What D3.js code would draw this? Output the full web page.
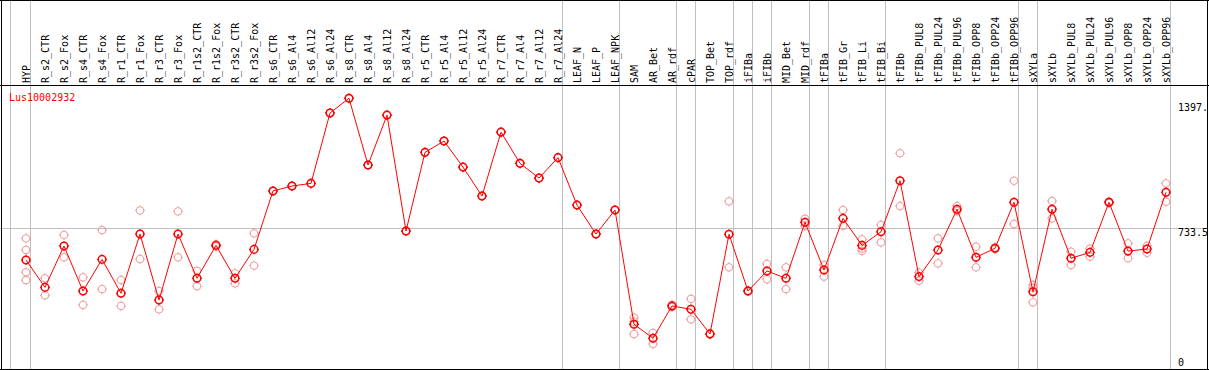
<!DOCTYPE html>
<html>
<head>
<meta charset="utf-8">
<script src="https://cdn.jsdelivr.net/npm/d3@7"></script>
<style>
  body { margin: 0; background: #fff; }
  svg text { font-family: "DejaVu Sans Mono", "Liberation Mono", monospace; font-size: 10px; }
</style>
</head>
<body>
<svg id="chart" width="1209" height="370"></svg>
<script>
// sample names along the top
var samples = ["HYP", "R_s2_CTR", "R_s2_Fox", "R_s4_CTR", "R_s4_Fox", "R_r1_CTR", "R_r1_Fox", "R_r3_CTR", "R_r3_Fox",
    "R_r1s2_CTR", "R_r1s2_Fox", "R_r3s2_CTR", "R_r3s2_Fox", "R_s6_CTR", "R_s6_Al4", "R_s6_Al12", "R_s6_Al24",
    "R_s8_CTR", "R_s8_Al4", "R_s8_Al12", "R_s8_Al24", "R_r5_CTR", "R_r5_Al4", "R_r5_Al12", "R_r5_Al24",
    "R_r7_CTR", "R_r7_Al4", "R_r7_Al12", "R_r7_Al24", "LEAF_N", "LEAF_P", "LEAF_NPK", "SAM", "AR_Bet", "AR_rdf",
    "cPAR", "TOP_Bet", "TOP_rdf", "iFIBa", "iFIBb", "MID_Bet", "MID_rdf", "tFIBa", "tFIB_Gr", "tFIB_Li", "tFIB_Bi",
    "tFIBb", "tFIBb_PUL8", "tFIBb_PUL24", "tFIBb_PUL96", "tFIBb_OPP8", "tFIBb_OPP24", "tFIBb_OPP96",
    "sXYLa", "sXYLb", "sXYLb_PUL8", "sXYLb_PUL24", "sXYLb_PUL96", "sXYLb_OPP8", "sXYLb_OPP24", "sXYLb_OPP96"];

// mean expression per sample
var means = [567, 422, 641, 403, 570, 391, 704, 355, 704, 470, 644, 470, 623,
    932, 958, 972, 1344, 1422, 1069, 1333, 720, 1136, 1196, 1058, 905, 1243, 1078, 1000, 1108,
    857, 704, 831, 227, 153, 324, 306, 176, 703, 403, 509, 470, 766, 514, 787, 644, 716,
    986, 479, 620, 835, 581, 629, 872, 399, 835, 576, 607, 872, 614, 625, 925];

// replicate values per sample
var replicates = [[681, 620, 502, 460], [470, 380], [699, 581], [475, 329], [725, 413], [461, 324], [829, 572],
    [403, 306], [824, 581], [510, 428], [650, 638], [496, 443], [708, 537],
    [932, 932], [958, 958], [972, 972], [1344, 1344], [1422, 1422], [1069, 1069], [1333, 1333], [720, 720],
    [1136, 1136], [1196, 1196], [1058, 1058], [905, 905], [1243, 1243], [1078, 1078], [1000, 1000], [1108, 1108],
    [857, 857], [704, 704], [831, 831],
    [262, 240, 175], [182, 123], [330, 318], [361, 253], [178, 174], [877, 528], [405, 401], [546, 465],
    [528, 413], [785, 747], [540, 479], [831, 748], [676, 628, 615], [752, 660],
    [1131, 852], [500, 457], [681, 549], [852, 826], [637, 528], [633, 625], [986, 757],
    [435, 420, 343], [879, 787], [611, 540], [627, 584], [876, 868], [655, 576], [641, 605], [972, 875]];

// index of last sample in each group (grey separators)
var groupEnds = [0, 28, 31, 34, 35, 37, 38, 39, 41, 42, 45, 52, 53, 60];

var axisTicks = [1397, 733.5, 0];
var axisLabels = ["1397.", "733.5", "0"];
var geneName = "Lus10002932";

var W = 1209, H = 370;
var HEADER = 85;

var svg = d3.select("#chart");

var x = d3.scaleLinear().domain([0, samples.length - 1]).range([26, 26 + 19 * (samples.length - 1)]);
var y = d3.scaleLinear().domain([0, 1397]).range([367.2, 103]);

// grid lines
svg.append("line")
    .attr("x1", 10.5).attr("x2", 10.5).attr("y1", 0).attr("y2", H)
    .attr("stroke", "#c0c0c0");

svg.selectAll("line.sep")
    .data(groupEnds)
    .enter()
    .append("line")
    .attr("class", "sep")
    .attr("x1", function(d) { return Math.round(x(d)) + 4.5; })
    .attr("x2", function(d) { return Math.round(x(d)) + 4.5; })
    .attr("y1", 0)
    .attr("y2", H)
    .attr("stroke", "#c0c0c0");

svg.append("line")
    .attr("x1", 0).attr("x2", W)
    .attr("y1", Math.round(y(733.5)) + 0.5).attr("y2", Math.round(y(733.5)) + 0.5)
    .attr("stroke", "#c0c0c0");

// sample labels, rotated
svg.selectAll("text.sample")
    .data(samples)
    .enter()
    .append("text")
    .attr("class", "sample")
    .attr("transform", function(d, i) { return "translate(" + (x(i) + 3.5) + "," + (HEADER - 2) + ") rotate(-90)"; })
    .attr("fill", "#000")
    .text(function(d) { return d; });

// right-hand value labels
svg.selectAll("text.tick")
    .data(axisTicks)
    .enter()
    .append("text")
    .attr("class", "tick")
    .attr("x", 1178)
    .attr("y", function(d) { return Math.min(y(d), 358) + 7.5; })
    .attr("fill", "#000")
    .text(function(d, i) { return axisLabels[i]; });

svg.append("text")
    .attr("x", 9)
    .attr("y", 101)
    .attr("fill", "red")
    .text(geneName);

// marker: small circle with little ticks
function marker(g, colour, sw) {
    g.append("circle")
        .attr("r", 3.8)
        .attr("fill", "none")
        .attr("stroke", colour)
        .attr("stroke-width", sw);
    g.append("path")
        .attr("d", "M0,-5V-3.8M0,3.8V5M-5,0H-3.8M3.8,0H5")
        .attr("stroke", colour)
        .attr("stroke-width", 1);
}

// replicate points
var reps = [];
for (var i = 0; i < replicates.length; i++) {
    for (var j = 0; j < replicates[i].length; j++) {
        reps.push({ i: i, v: replicates[i][j] });
    }
}
svg.append("g").selectAll("g")
    .data(reps)
    .enter()
    .append("g")
    .attr("transform", function(d) { return "translate(" + x(d.i) + "," + y(d.v) + ")"; })
    .each(function() { marker(d3.select(this), "#f09a9a", 1); });

// mean line
var line = d3.line()
    .x(function(d, i) { return x(i); })
    .y(function(d) { return y(d); });

svg.append("path")
    .datum(means)
    .attr("d", line)
    .attr("fill", "none")
    .attr("stroke", "red")
    .attr("stroke-width", 1);

svg.append("g").selectAll("g")
    .data(means)
    .enter()
    .append("g")
    .attr("transform", function(d, i) { return "translate(" + x(i) + "," + y(d) + ")"; })
    .each(function() { marker(d3.select(this), "red", 1.5); });

// frame
svg.append("rect")
    .attr("x", 1208).attr("y", 0).attr("width", 1).attr("height", H)
    .attr("fill", "#fff");
var frame = [[0, 0.5, W, 0.5], [0, HEADER + 0.5, W, HEADER + 0.5], [0, 369.5, W, 369.5],
    [1.5, 0, 1.5, H], [1207.5, 0, 1207.5, H]];
svg.selectAll("line.frame")
    .data(frame)
    .enter()
    .append("line")
    .attr("class", "frame")
    .attr("x1", function(d) { return d[0]; })
    .attr("y1", function(d) { return d[1]; })
    .attr("x2", function(d) { return d[2]; })
    .attr("y2", function(d) { return d[3]; })
    .attr("stroke", "#000");
</script>
</body>
</html>
